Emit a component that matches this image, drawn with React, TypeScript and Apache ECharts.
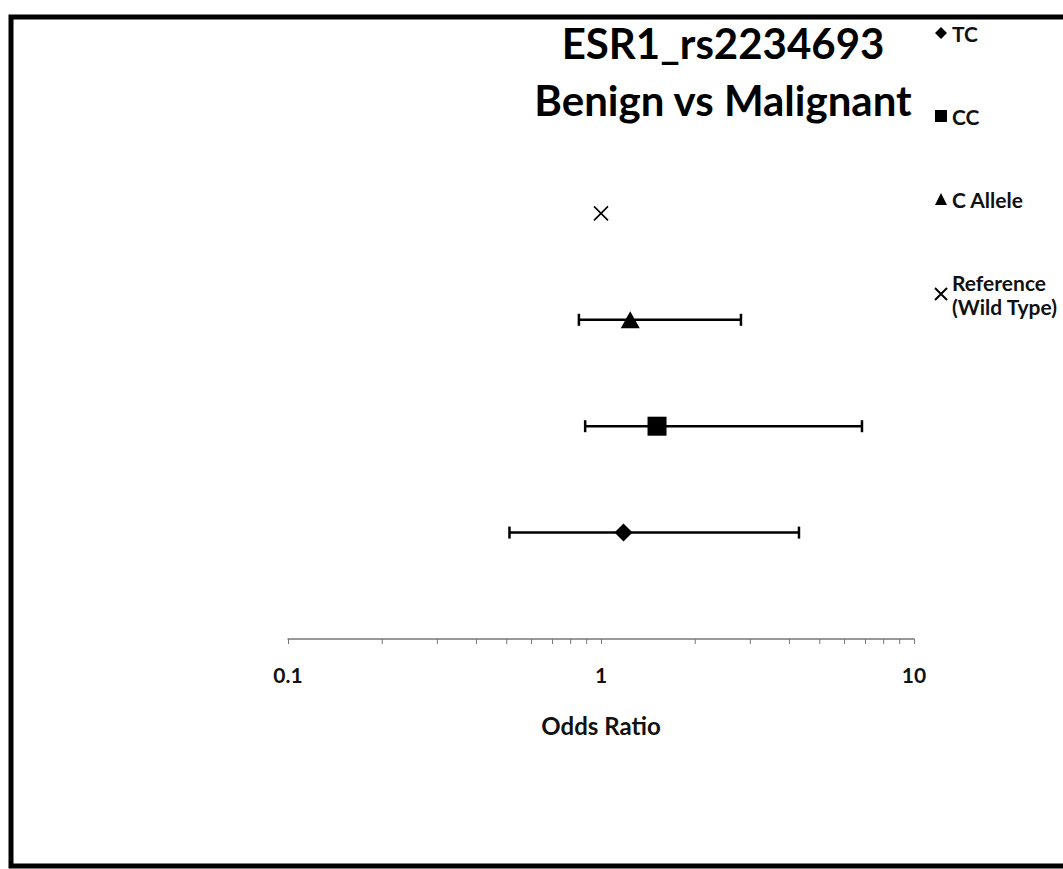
import React, { useEffect, useRef } from "react";
import * as echarts from "echarts";

const groups = ["TC", "CC", "C Allele", "Reference\n(Wild Type)"];
const oddsRatio = [1.18, 1.51, 1.24, 1.0];
const lowerCI = [0.51, 0.89, 0.85, 1.0];
const upperCI = [4.29, 6.82, 2.8, 1.0];
const rowPos = [1, 2, 3, 4];
const hasInterval = [true, true, true, false];
const minorTickValues = [0.2, 0.3, 0.4, 0.5, 0.6, 0.7, 0.8, 0.9, 2, 3, 4, 5, 6, 7, 8, 9];
const xTickLabels = ["0.1", "1", "10"];

const symbols = [
  "diamond",
  "rect",
  "triangle",
  "path://M0,0L10,10M10,0L0,10",
];
const sizes: any[] = [18, 19, [19, 17], 14];

export default function App() {
  const ref = useRef<HTMLDivElement>(null);
  useEffect(() => {
    if (!ref.current) return;
    const chart = echarts.init(ref.current, null, { renderer: "svg" });
    const font = "Lato";
    const scatterSeries = groups.map((g, i) => ({
      name: g,
      type: "scatter",
      z: 5,
      symbol: symbols[i],
      symbolSize: sizes[i],
      itemStyle:
        i === 3
          ? { color: "rgba(0,0,0,0)", borderColor: "#000", borderWidth: 1.6, opacity: 1 }
          : { color: "#000", opacity: 1 },
      data: [[oddsRatio[i], rowPos[i]]],
    }));
    const errData = groups
      .map((g, i) => [lowerCI[i], upperCI[i], rowPos[i]])
      .filter((_, i) => hasInterval[i]);
    chart.setOption({
      animation: false,
      backgroundColor: "#fff",
      title: {
        text: "ESR1_rs2234693\nBenign vs Malignant",
        left: 718,
        top: 9,
        textAlign: "center",
        textStyle: {
          fontFamily: font,
          fontWeight: "bold",
          fontSize: 42,
          lineHeight: 57,
          color: "#000",
        },
      },
      legend: {
        orient: "vertical",
        left: 929,
        top: 16,
        itemGap: 59,
        itemWidth: 12,
        itemHeight: 12,
        data: groups,
        textStyle: {
          fontFamily: font,
          fontWeight: "bold",
          fontSize: 21,
          lineHeight: 24,
          color: "#111",
        },
      },
      grid: { left: 288, right: 149, top: 107, bottom: 230 },
      xAxis: {
        type: "log",
        logBase: 10,
        min: 0.1,
        max: 10,
        name: "Odds Ratio",
        nameLocation: "middle",
        nameGap: 74,
        nameTextStyle: {
          fontFamily: font,
          fontWeight: "bold",
          fontSize: 24,
          color: "#111",
        },
        axisLine: { show: true, lineStyle: { color: "#777", width: 1.5 } },
        axisTick: { show: true, length: 5, lineStyle: { color: "#777" } },
        splitLine: { show: false },
        axisLabel: {
          margin: 25,
          fontFamily: font,
          fontWeight: "bold",
          fontSize: 21,
          color: "#111",
          formatter: (v: number) => {
            const k = Math.round(Math.log10(v)) + 1;
            return xTickLabels[k] ?? "";
          },
        },
      },
      yAxis: {
        type: "value",
        min: 0,
        max: 5,
        show: false,
      },
      series: [
        {
          type: "custom",
          name: "errorbars",
          z: 3,
          encode: { x: [0, 1], y: 2 },
          data: errData,
          renderItem: (params: any, api: any) => {
            const y = api.value(2);
            const lo = api.coord([api.value(0), y]);
            const hi = api.coord([api.value(1), y]);
            const st = { stroke: "#000", lineWidth: 2.5 };
            return {
              type: "group",
              children: [
                { type: "line", shape: { x1: lo[0], y1: lo[1], x2: hi[0], y2: hi[1] }, style: st },
                { type: "line", shape: { x1: lo[0], y1: lo[1] - 6, x2: lo[0], y2: lo[1] + 6 }, style: st },
                { type: "line", shape: { x1: hi[0], y1: hi[1] - 6, x2: hi[0], y2: hi[1] + 6 }, style: st },
              ],
            };
          },
        },
        {
          type: "custom",
          name: "minorTicks",
          z: 2,
          silent: true,
          clip: false,
          data: minorTickValues.map((v) => [v, 0]),
          renderItem: (params: any, api: any) => {
            const p = api.coord([api.value(0), 0]);
            return {
              type: "line",
              shape: { x1: p[0], y1: p[1], x2: p[0], y2: p[1] + 5 },
              style: { stroke: "#777", lineWidth: 1 },
            };
          },
        },
        ...scatterSeries,
      ],
      graphic: [
        {
          type: "rect",
          shape: { x: 11, y: 17, width: 1100, height: 849 },
          style: { fill: "none", stroke: "#000", lineWidth: 5 },
          z: 10,
        },
      ],
    });
    return () => chart.dispose();
  }, []);
  return (
    <div
      ref={ref}
      style={{ position: "fixed", left: 0, top: 0, width: 1063, height: 869 }}
    />
  );
}
